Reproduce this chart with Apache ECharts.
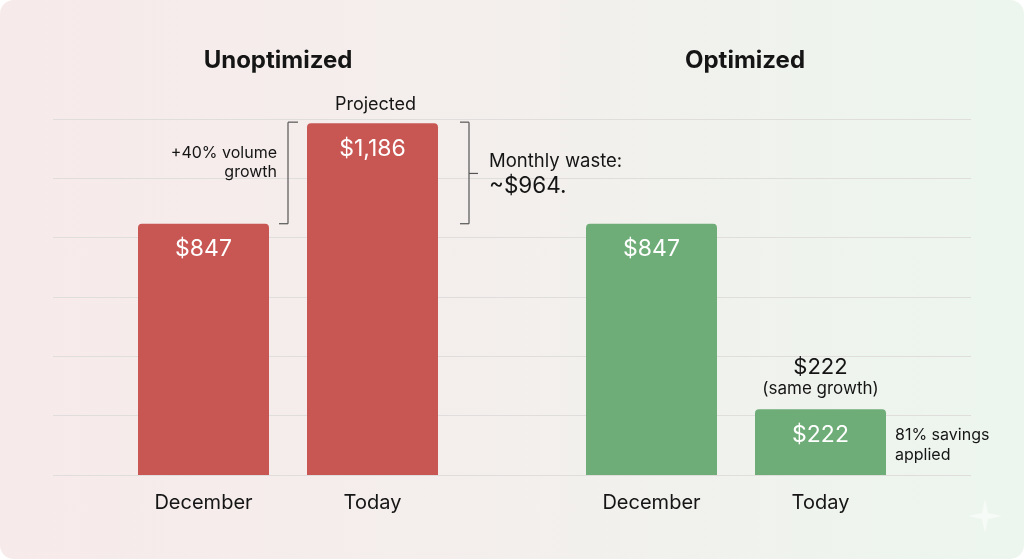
<!DOCTYPE html>
<html><head><meta charset="utf-8">
<script src="https://cdn.jsdelivr.net/npm/echarts@6/dist/echarts.min.js"></script>
<style>
html,body{margin:0;padding:0;background:#fff;}
#c{width:1024px;height:559px;border-radius:14px;overflow:hidden;
background:linear-gradient(90deg,#f7eaea 0%,#f3efed 50%,#ecf6ee 100%);}
</style></head>
<body><div id="c"></div>
<script>
const months = ['December', 'Today'];
const unoptimized = [847, 1186];
const optimized = [847, 222];
const yTicks = [0, 200, 400, 600, 800, 1000, 1200];
const panelTitles = ['Unoptimized', 'Optimized'];

const chart = echarts.init(document.getElementById('c'));
const FONT = 'Inter, "Noto Sans", sans-serif';
const yMax = yTicks[yTicks.length - 1];
const yInt = yTicks[1] - yTicks[0];

function valueLabel() {
  return {show: true, position: 'insideTop', distance: 14, color: '#fff', fontSize: 23,
    fontFamily: FONT, formatter: p => '$' + p.value.toLocaleString('en-US')};
}
const catAxis = idx => ({type: 'category', gridIndex: idx, data: months,
  axisLine: {show: false}, axisTick: {show: false},
  axisLabel: {color: '#151515', fontSize: 20, fontFamily: FONT, margin: 18}});
const valAxis = (idx, show) => ({type: 'value', gridIndex: idx, min: 0, max: yMax, interval: yInt,
  axisLabel: {show: false}, axisLine: {show: false}, axisTick: {show: false},
  splitLine: {show: show, lineStyle: {color: '#e0dedc', width: 1}}});

chart.setOption({
  animation: false,
  grid: [
    {left: 53, right: 53, top: 119, bottom: 84},
    {left: 119, width: 338, top: 119, bottom: 84},
    {left: 567, width: 338, top: 119, bottom: 84}
  ],
  xAxis: [
    {type: 'category', gridIndex: 0, data: [''], show: false},
    catAxis(1), catAxis(2)
  ],
  yAxis: [valAxis(0, true), valAxis(1, false), valAxis(2, false)],
  series: [
    {type: 'bar', xAxisIndex: 1, yAxisIndex: 1, data: unoptimized, barWidth: 131,
      itemStyle: {color: '#c85653', borderRadius: [4, 4, 0, 0]}, label: valueLabel()},
    {type: 'bar', xAxisIndex: 2, yAxisIndex: 2, data: optimized, barWidth: 131,
      itemStyle: {color: '#6fad78', borderRadius: [4, 4, 0, 0]}, label: valueLabel()}
  ]
});

const px = (g, cat, v) => chart.convertToPixel({xAxisIndex: g, yAxisIndex: g}, [cat, v]);
const uDec = px(1, 0, unoptimized[0]), uTod = px(1, 1, unoptimized[1]);
const oDec = px(2, 0, optimized[0]), oTod = px(2, 1, optimized[1]);
const half = 65.5;
const txt = (x, y, t, o) => Object.assign({type: 'text', x: x, y: y,
  style: Object.assign({text: t, fill: '#151515', font: '16px ' + FONT, align: 'left', verticalAlign: 'middle'}, o || {})});
const line = (x1, y1, x2, y2) => ({type: 'line', shape: {x1, y1, x2, y2},
  style: {stroke: '#555', lineWidth: 1.2}});
const waste = unoptimized[1] - optimized[1];

const lbx = uTod[0] - half - 19, rbx = uTod[0] + half + 31;
const star = [];
for (let i = 0; i < 16; i++) {
  const a = i * Math.PI / 8, r = (i % 4 === 0) ? 17 : (i % 2 === 0 ? 4 : 6.5);
  star.push([Math.sin(a) * r, -Math.cos(a) * r]);
}
chart.setOption({graphic: [
  txt((uDec[0] + uTod[0]) / 2 - 10, 61, panelTitles[0], {font: 'bold 24px ' + FONT, align: 'center'}),
  txt((oDec[0] + oTod[0]) / 2 + 9, 61, panelTitles[1], {font: 'bold 24px ' + FONT, align: 'center'}),
  txt(uTod[0] + 3, 105, 'Projected', {font: '18px ' + FONT, align: 'center'}),
  txt(lbx - 11, 153, '+40% volume', {align: 'right'}),
  txt(lbx - 11, 172, 'growth', {align: 'right'}),
  line(lbx, uTod[1] - 1, lbx + 10, uTod[1] - 1),
  line(lbx, uTod[1] - 1, lbx, uDec[1]),
  line(lbx - 9, uDec[1], lbx, uDec[1]),
  line(rbx - 9, uTod[1] - 1, rbx, uTod[1] - 1),
  line(rbx, uTod[1] - 1, rbx, uDec[1]),
  line(rbx - 9, uDec[1], rbx, uDec[1]),
  line(rbx, (uTod[1] + uDec[1]) / 2, rbx + 9, (uTod[1] + uDec[1]) / 2),
  txt(rbx + 20, 161, 'Monthly waste:', {font: '18.5px ' + FONT}),
  txt(rbx + 20, 186, '~$' + waste + '.', {font: '22.5px ' + FONT}),
  txt(oTod[0], oTod[1] - 42, '$' + optimized[1], {font: '22px ' + FONT, align: 'center'}),
  txt(oTod[0], oTod[1] - 20, '(same growth)', {font: '17px ' + FONT, align: 'center'}),
  txt(oTod[0] + half + 9, 435, '81% savings'),
  txt(oTod[0] + half + 9, 455, 'applied'),
  {type: 'polygon', x: 985, y: 516, shape: {points: star}, style: {fill: '#ffffff', opacity: 0.55}}
]});
</script></body></html>
